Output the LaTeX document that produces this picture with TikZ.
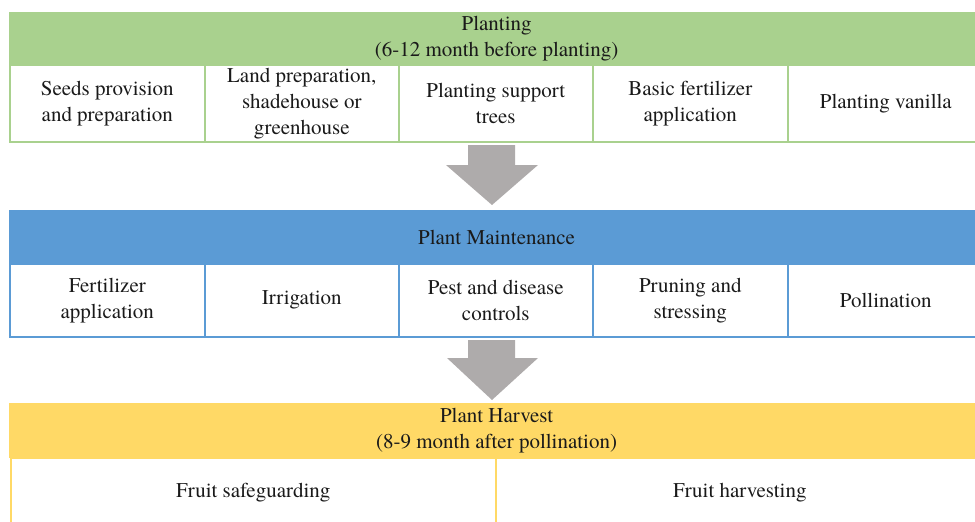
\documentclass[tikz,border=0pt]{standalone}
\usepackage{fontspec}
\setmainfont{TeX Gyre Termes}
\definecolor{gfill}{HTML}{A9D18E}
\definecolor{bfill}{HTML}{5B9BD5}
\definecolor{yfill}{HTML}{FFD966}
\definecolor{arr}{HTML}{AEABAB}
\definecolor{txt}{HTML}{1A1A1A}
\tikzset{
  boxtext/.style={anchor=north west, inner sep=0pt, align=center, text=txt,
    font=\fontsize{21}{26}\selectfont, execute at begin node={\vspace*{4pt}}},
  hdr/.style={boxtext, draw=#1, fill=#1, line width=1.2pt},
  cell/.style={boxtext, draw=#1, fill=white, line width=1.6pt},
  blockarrow/.style={fill=arr, draw=none},
}
\begin{document}
\begin{tikzpicture}[x=1pt, y=-1pt]
\useasboundingbox (0,0) rectangle (975,522);
\clip (0,0) rectangle (975,522);
% Planting
\node[hdr=gfill, minimum width=974pt, minimum height=52pt] (ph) at (9,12) {Planting\\(6-12 month before planting)};
\node[cell=gfill, minimum width=195pt, minimum height=77pt] (p1) at (9,64) {Seeds provision\\and preparation};
\node[cell=gfill, minimum width=194pt, minimum height=77pt] (p2) at (204,64) {Land preparation,\\shadehouse or\\greenhouse};
\node[cell=gfill, minimum width=194pt, minimum height=77pt] (p3) at (398,64) {Planting support\\trees};
\node[cell=gfill, minimum width=195pt, minimum height=77pt] (p4) at (592,64) {Basic fertilizer\\application};
\node[cell=gfill, minimum width=196pt, minimum height=77pt] (p5) at (787,64) {Planting vanilla};
% arrow 1
\fill[blockarrow] (468,145) -- (515,145) -- (515,165) -- (538,165) -- (492,205) -- (446,165) -- (468,165) -- cycle;
% Maintenance
\node[hdr=bfill, minimum width=974pt, minimum height=53pt] (mh) at (9,210) {Plant Maintenance};
\node[cell=bfill, minimum width=195pt, minimum height=73pt] (m1) at (9,263) {Fertilizer\\application};
\node[cell=bfill, minimum width=194pt, minimum height=73pt] (m2) at (204,263) {Irrigation};
\node[cell=bfill, minimum width=194pt, minimum height=73pt] (m3) at (398,263) {Pest and disease\\controls};
\node[cell=bfill, minimum width=195pt, minimum height=73pt] (m4) at (592,263) {Pruning and\\stressing};
\node[cell=bfill, minimum width=196pt, minimum height=73pt] (m5) at (787,263) {Pollination};
% arrow 2
\fill[blockarrow] (468,340) -- (515,340) -- (515,358) -- (538,358) -- (492,400) -- (447,358) -- (468,358) -- cycle;
% Harvest
\node[hdr=yfill, minimum width=974pt, minimum height=54pt] (hh) at (9,403) {Plant Harvest\\(8-9 month after pollination)};
\node[cell=yfill, minimum width=485pt, minimum height=70pt] (h1) at (10,457) {Fruit safeguarding};
\node[cell=yfill, minimum width=488pt, minimum height=70pt] (h2) at (495,457) {Fruit harvesting};
\end{tikzpicture}
\end{document}
